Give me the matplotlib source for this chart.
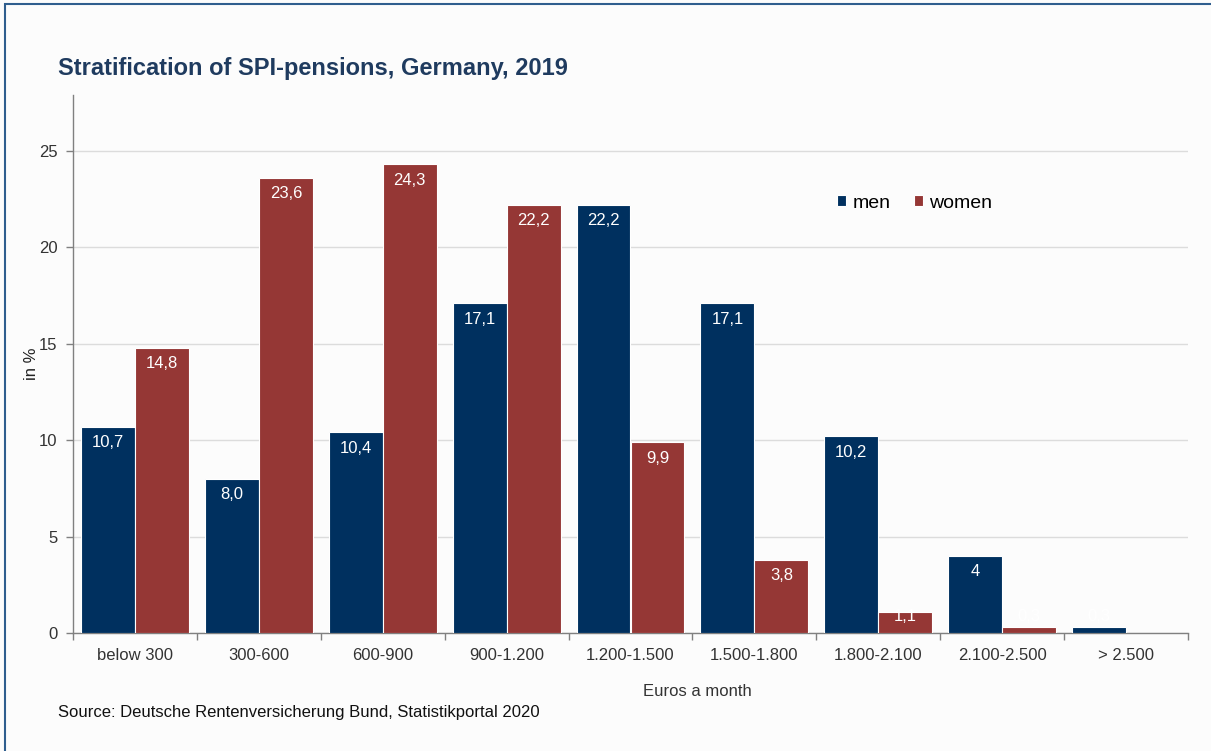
import matplotlib
matplotlib.use("Agg")
import matplotlib.pyplot as plt
from matplotlib.patches import Rectangle
import numpy as np

plt.rcParams['font.family'] = ['Liberation Sans', 'DejaVu Sans']

categories = ["below 300", "300-600", "600-900", "900-1.200", "1.200-1.500",
              "1.500-1.800", "1.800-2.100", "2.100-2.500", "> 2.500"]
men = [10.7, 8.0, 10.4, 17.1, 22.2, 17.1, 10.2, 4.0, 0.3]
women = [14.8, 23.6, 24.3, 22.2, 9.9, 3.8, 1.1, 0.3, 0.0]
men_labels = ["10,7", "8,0", "10,4", "17,1", "22,2", "17,1", "10,2", "4", "0,3"]
women_labels = ["14,8", "23,6", "24,3", "22,2", "9,9", "3,8", "1,1", "0,3", None]
y_ticks = [0, 5, 10, 15, 20, 25]

MEN_COLOR = "#00305F"
WOMEN_COLOR = "#953735"
BG = "#FCFCFC"

fig = plt.figure(figsize=(12.11, 7.51), dpi=100, facecolor=BG)
ax = fig.add_axes([73 / 1211, 1 - 633 / 751, (1188 - 73) / 1211, (633 - 95) / 751])
ax.set_facecolor(BG)

x = np.arange(len(categories))
w = 0.435
off = 0.218
ax.bar(x - off, men, width=w, color=MEN_COLOR, edgecolor="white", linewidth=0.8,
       label="men", zorder=3)
ax.bar(x + off, women, width=w, color=WOMEN_COLOR, edgecolor="white", linewidth=0.8,
       label="women", zorder=3)

# value labels sit just inside the top of each bar, never lower than a floor
for xs, vals, labs in ((x - off, men, men_labels), (x + off, women, women_labels)):
    for xi, v, lab in zip(xs, vals, labs):
        if lab is None:
            continue
        ax.text(xi, max(v - 0.83, 0.83), lab, ha="center", va="center",
                color="white", fontsize=12, zorder=4)

ax.set_xlim(-0.5, len(categories) - 0.5)
ax.set_ylim(0, 27.9)
ax.set_yticks(y_ticks)
ax.set_yticklabels([str(t) for t in y_ticks])
ax.yaxis.grid(True, color="#DCDCDC", linewidth=1.0, zorder=0)
ax.set_axisbelow(True)

ax.set_xticks(np.arange(len(categories) + 1) - 0.5)
ax.set_xticklabels([])
ax.set_xticks(x, minor=True)
ax.set_xticklabels(categories, minor=True)
ax.tick_params(axis="x", which="minor", length=0, pad=11, labelsize=12, labelcolor="#333333")
ax.tick_params(axis="x", which="major", length=5, color="#808080", width=1)
ax.tick_params(axis="y", length=5, color="#808080", width=1, labelsize=12,
               labelcolor="#333333", pad=6)

for s in ("top", "right"):
    ax.spines[s].set_visible(False)
for s in ("left", "bottom"):
    ax.spines[s].set_color("#808080")
    ax.spines[s].set_linewidth(1.0)

ax.set_ylabel("in %", fontsize=12, color="#222222", labelpad=0)
fig.text(697 / 1211, 1 - 692 / 751, "Euros a month", ha="center", va="center",
         fontsize=12, color="#333333")

fig.text(58 / 1211, 1 - 68 / 751, "Stratification of SPI-pensions, Germany, 2019",
         ha="left", va="center", fontsize=17, fontweight="bold", color="#1F3B5F")
fig.text(58 / 1211, 1 - 713 / 751,
         "Source: Deutsche Rentenversicherung Bund, Statistikportal 2020",
         ha="left", va="center", fontsize=12, color="#111111")

leg = ax.legend(loc="upper left", bbox_to_anchor=(829 / 1211, 1 - 187 / 751),
                bbox_transform=fig.transFigure, ncol=2, frameon=False,
                fontsize=14, handlelength=0.5, handleheight=0.5,
                handletextpad=0.3, columnspacing=1.2, borderaxespad=0)

fig.add_artist(Rectangle((5 / 1211, -0.1), 1.2, 1.1 - 4.5 / 751,
                         transform=fig.transFigure, fill=False,
                         edgecolor="#2F5E8E", linewidth=1.5))

fig.savefig("out.png", dpi=100, facecolor=BG)
